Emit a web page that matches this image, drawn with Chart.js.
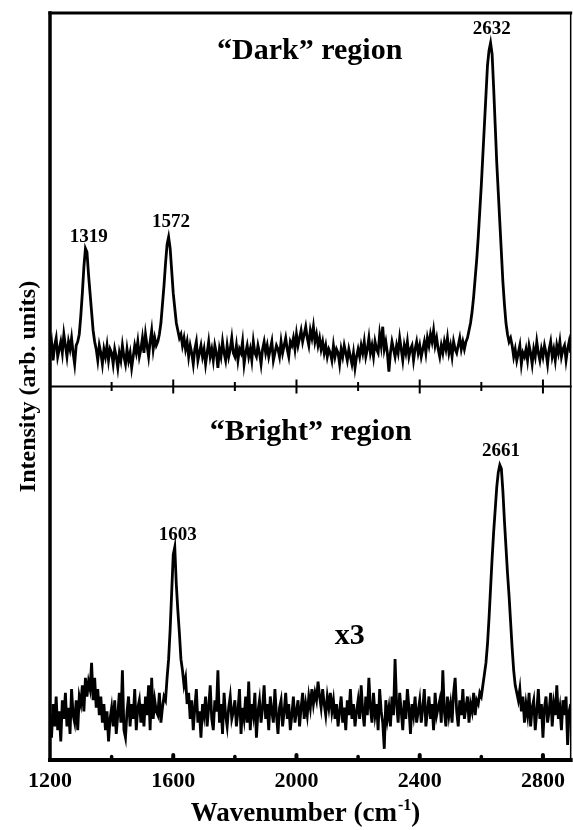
<!DOCTYPE html>
<html><head><meta charset="utf-8">
<script src="https://cdn.jsdelivr.net/npm/chart.js@4/dist/chart.umd.min.js"></script>
<style>html,body{margin:0;padding:0;background:#fff;overflow:hidden}#wrap{width:573px;height:830px;position:relative}</style>
</head><body><div id="wrap"><canvas id="c" width="573" height="830"></canvas></div>
<script>
const START_WAVENUMBER = 1200;
const STEP = 5;
const darkRegion = [
 10,12,7,11,13,8,10,12,9,14,11,8,12,10,13,9,6,11,12,14,
 19,25,32,37,36,30,25,20,15,12,10,7,11,9,6,10,8,11,7,10,
 9,6,10,8,5,9,7,11,8,6,10,7,9,5,8,11,9,12,8,10,
 13,9,14,11,8,12,15,10,13,11,12,14,17,22,27,33,38,40,37,31,
 25,21,17,15,13,14,11,13,10,12,8,11,9,6,10,12,7,9,11,8,
 10,6,9,12,8,10,7,11,9,5,10,8,12,9,7,11,8,10,13,9,
 8,11,7,10,9,12,6,9,11,8,10,7,12,9,8,11,9,6,10,12,
 9,11,8,10,12,7,9,11,10,8,12,9,11,13,10,8,12,11,13,10,
 14,11,13,15,12,14,16,13,11,15,13,16,12,14,11,13,10,12,9,11,
 8,10,9,7,11,8,10,9,6,10,8,11,9,7,10,8,6,9,5,8,
 10,8,11,9,12,8,10,13,9,11,8,12,10,9,14,11,16,10,12,9,
 4,9,12,10,8,11,9,13,10,7,11,9,12,8,10,11,7,10,12,9,
 11,8,10,12,9,13,11,14,12,15,11,13,10,8,11,9,12,10,13,9,
 11,8,12,10,9,11,13,10,12,10,12,13,15,17,20,24,29,34,40,47,
 54,62,70,78,86,90,92,89,80,70,60,52,44,36,28,22,17,14,12,13,
 11,8,10,7,9,11,6,9,8,10,7,11,9,6,10,8,12,9,7,10,
 8,11,9,6,10,12,8,10,7,11,9,12,8,10,11,7,10,12,9
];
const brightRegion = [
 12,6,15,9,17,8,13,5,16,11,18,9,14,7,19,12,10,16,8,17,
 15,20,13,22,17,21,19,26,16,22,14,19,12,17,10,15,8,13,5,11,
 14,9,16,7,12,18,10,24,8,6,13,17,9,15,11,19,8,14,16,10,
 15,9,17,12,20,8,22,11,16,13,12,18,10,14,17,16,22,27,35,45,
 55,57,47,40,34,27,24,20,22,15,18,11,16,8,14,19,10,13,6,15,
 12,17,9,14,20,11,8,16,13,24,10,15,7,18,12,9,14,17,11,13,
 16,9,13,19,7,14,11,17,10,21,8,15,12,18,6,13,16,10,14,20,
 11,15,8,17,13,10,19,12,7,14,16,9,13,18,11,15,8,12,17,10,
 13,16,9,14,18,11,15,12,17,14,19,15,18,16,21,17,14,19,15,12,
 17,14,18,13,16,11,15,9,13,17,10,14,8,16,12,19,11,15,9,13,
 16,11,20,13,9,17,12,22,14,10,18,12,15,8,19,13,10,3,16,11,
 14,9,17,12,27,15,10,18,13,8,16,11,19,14,7,15,12,17,10,13,
 16,10,14,19,9,13,17,11,15,8,18,12,14,16,10,24,13,9,17,12,
 15,10,18,22,13,9,16,12,19,11,14,17,10,15,13,18,12,16,15,18,
 17,20,23,26,31,38,46,54,61,67,73,77,79,78,72,64,57,50,44,37,
 30,24,20,18,16,19,13,17,10,15,12,18,9,14,16,8,13,19,11,15,
 6,14,17,10,13,18,9,15,12,20,11,14,8,16,12,17,4,13,15
];
const xTickLabels = [1200, 1600, 2000, 2400, 2800];
const axisTickValues = [1400, 1600, 1800, 2000, 2200, 2400, 2600, 2800];
const darkPeakLabels = ['1319', '1572', '2632'];
const brightPeakLabels = ['1603', '2661'];
const X_MIN = 1200, X_MAX = 2890;

const toPoints = arr => arr.map((v, i) => ({ x: START_WAVENUMBER + STEP * i, y: v }));
const SERIF = '"Liberation Serif", "Times New Roman", serif';

// annotation anchors (data coordinates) for the text labels
const notes = [
  { text: '\u201CDark\u201D region', w: 2043, v: 87.7, size: 30, axis: 'yTop' },
  { text: darkPeakLabels[0], w: 1326, v: 38.6, size: 19, axis: 'yTop' },
  { text: darkPeakLabels[1], w: 1593, v: 42.6, size: 19, axis: 'yTop' },
  { text: darkPeakLabels[2], w: 2634, v: 94.3, size: 19, axis: 'yTop' },
  { text: '\u201CBright\u201D region', w: 2046, v: 85.8, size: 30, axis: 'yBot' },
  { text: brightPeakLabels[0], w: 1615, v: 58.8, size: 19, axis: 'yBot' },
  { text: brightPeakLabels[1], w: 2664, v: 81.3, size: 19, axis: 'yBot' },
  { text: 'x3', w: 2173, v: 31.0, size: 30, axis: 'yBot' }
];

const framePlugin = {
  id: 'frame',
  afterDraw(chart) {
    const { ctx, chartArea: a, scales } = chart;
    const xs = scales.x, yT = scales.yTop, yB = scales.yBot;
    ctx.save();
    ctx.strokeStyle = '#000';
    ctx.fillStyle = '#000';
    const seg = (x1, y1, x2, y2, w) => { ctx.lineWidth = w; ctx.beginPath(); ctx.moveTo(x1, y1); ctx.lineTo(x2, y2); ctx.stroke(); };
    ctx.lineCap = 'square';
    seg(a.left, a.top, a.right, a.top, 3);
    seg(a.left, a.bottom, a.right, a.bottom, 4);
    seg(a.left, a.top, a.left, a.bottom, 3.5);
    seg(a.right, a.top, a.right, a.bottom, 1.5);
    const divY = yT.bottom;
    seg(a.left, divY, a.right, divY, 2);
    ctx.lineCap = 'butt';
    axisTickValues.forEach(v => {
      const px = xs.getPixelForValue(v);
      const major = v % 400 === 0;
      const len = major ? 7 : 4.5;
      seg(px, divY - len, px, divY + len, 2);
    });
    ctx.lineCap = 'round';
    axisTickValues.forEach(v => {
      const px = xs.getPixelForValue(v);
      const major = v % 400 === 0;
      seg(px, a.bottom, px, a.bottom - (major ? 5 : 3.5), major ? 4 : 3.5);
    });
    ctx.textAlign = 'center';
    ctx.textBaseline = 'alphabetic';
    notes.forEach(n => {
      ctx.font = 'bold ' + n.size + 'px ' + SERIF;
      ctx.fillText(n.text, xs.getPixelForValue(n.w), scales[n.axis].getPixelForValue(n.v));
    });
    // y axis title
    ctx.save();
    ctx.translate(35, (a.top + a.bottom) / 2);
    ctx.rotate(-Math.PI / 2);
    ctx.font = 'bold 24px ' + SERIF;
    ctx.fillText('Intensity (arb. units)', 0, 0);
    ctx.restore();
    // x axis title with superscript
    const main1 = 'Wavenumber (cm', sup = '-1', main2 = ')';
    ctx.font = 'bold 27px ' + SERIF;
    const w1 = ctx.measureText(main1).width, w3 = ctx.measureText(main2).width;
    ctx.font = 'bold 16px ' + SERIF;
    const w2 = ctx.measureText(sup).width;
    const total = w1 + w2 + w3;
    let x0 = 305 - total / 2;
    const base = 821;
    ctx.textAlign = 'left';
    ctx.font = 'bold 27px ' + SERIF;
    ctx.fillText(main1, x0, base);
    ctx.font = 'bold 16px ' + SERIF;
    ctx.fillText(sup, x0 + w1 + 1, base - 11);
    ctx.font = 'bold 27px ' + SERIF;
    ctx.fillText(main2, x0 + w1 + w2 + 1, base);
    ctx.restore();
  }
};

const yCommon = {
  type: 'linear', min: 0, max: 100, position: 'left', stack: 'panels', stackWeight: 1,
  ticks: { display: false }, grid: { display: false, drawTicks: false }, border: { display: false },
  afterFit: s => { s.width = 0; }
};

new Chart(document.getElementById('c'), {
  type: 'line',
  data: {
    datasets: [
      { label: 'Dark', data: toPoints(darkRegion), yAxisID: 'yTop', borderColor: '#000', borderWidth: 2.8, pointRadius: 0, tension: 0, fill: false },
      { label: 'Bright', data: toPoints(brightRegion), yAxisID: 'yBot', borderColor: '#000', borderWidth: 2.8, pointRadius: 0, tension: 0, fill: false }
    ]
  },
  options: {
    responsive: false,
    devicePixelRatio: 1,
    animation: false,
    layout: { padding: { top: 13, right: 1, left: 50, bottom: 0 } },
    plugins: { legend: { display: false }, tooltip: { enabled: false }, title: { display: false } },
    scales: {
      x: {
        type: 'linear', min: X_MIN, max: X_MAX, position: 'bottom',
        afterBuildTicks: s => { s.ticks = xTickLabels.map(v => ({ value: v })); },
        ticks: { font: { family: SERIF, weight: 'bold', size: 22 }, color: '#000', padding: 8, maxRotation: 0, autoSkip: false, callback: v => String(v) },
        grid: { display: false, drawTicks: false }, border: { display: false },
        afterFit: s => { s.height = 70; }
      },
      // stacked panels: first defined is placed at the bottom
      yBot: Object.assign({}, yCommon),
      yTop: Object.assign({}, yCommon)
    }
  },
  plugins: [framePlugin]
});
</script>
</body></html>
